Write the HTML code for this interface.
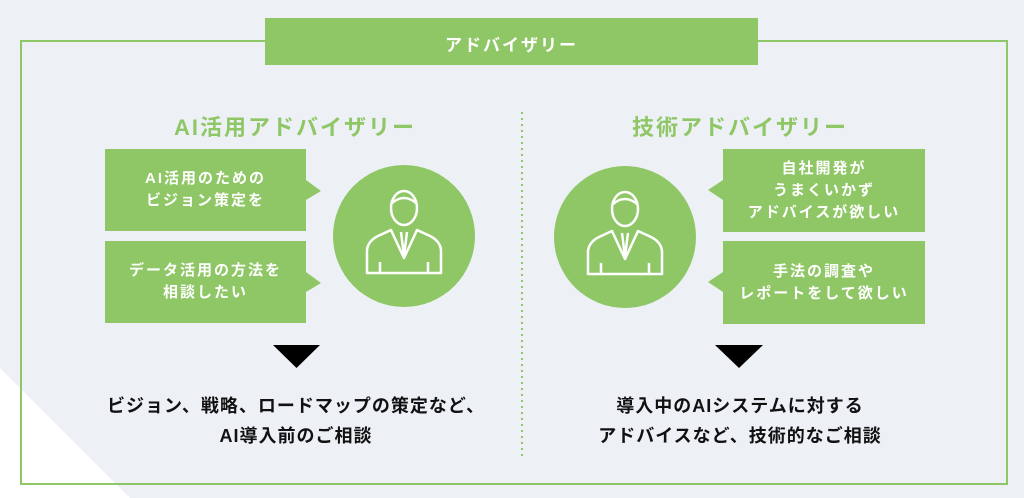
<!DOCTYPE html>
<html><head><meta charset="utf-8"><style>
body{margin:0;width:1024px;height:498px;background:#edf1f6;position:relative;overflow:hidden;font-family:"Liberation Sans","Noto Sans CJK JP",sans-serif;font-weight:bold}
.t{position:absolute;text-align:center;white-space:nowrap}
.box{position:absolute;background:#8fc766;color:#fff;font-size:15px;letter-spacing:2px;line-height:22px;display:flex;align-items:center;justify-content:center;text-align:center}
</style></head><body>
<svg width="1024" height="498" style="position:absolute;left:0;top:0">
<polygon points="0,368 130,498 0,498" fill="#fff"/>
<rect x="21" y="41" width="986" height="443" fill="none" stroke="#8fc766" stroke-width="2"/>
<rect x="265" y="18" width="493" height="47" fill="#8fc766"/>
<line x1="522" y1="112" x2="522" y2="456" stroke="#8fc766" stroke-width="2" stroke-dasharray="2,4"/>
<polygon points="306,180 321,191 306,200" fill="#8fc766"/>
<polygon points="306,272 321,283 306,292" fill="#8fc766"/>
<polygon points="723,180 708,190 723,200" fill="#8fc766"/>
<polygon points="723,272 708,282 723,292" fill="#8fc766"/>
<circle cx="404" cy="236" r="71" fill="#8fc766"/>
<circle cx="625" cy="237" r="71" fill="#8fc766"/>
<g id="p" fill="none" stroke="#fff" stroke-width="2.5" stroke-linejoin="round">
<ellipse cx="404" cy="208" rx="13" ry="17"/>
<path d="M392 203 Q404 193 416 203"/>
<path d="M367 273 L367 250 Q368 241 378 236 L391 230 L404 258 L417 230 L430 236 Q440 241 441 250 L441 273 Z"/>
<path d="M401 232 L404 256 L407 232 M380 262 V273 M428 262 V273"/>
</g>
<use href="#p" x="221" y="1"/>
<polygon points="273,345 320,345 296.5,368" fill="#000"/>
<polygon points="715,345 763,345 739,368" fill="#000"/>
</svg>
<div class="t" style="left:265px;width:493px;top:31px;font-size:17px;color:#fff;letter-spacing:2px">アドバイザリー</div>
<div class="t" style="left:130px;width:330px;top:110px;font-size:22px;color:#8fc766;letter-spacing:2px">AI活用アドバイザリー</div>
<div class="t" style="left:575px;width:330px;top:110px;font-size:22px;color:#8fc766;letter-spacing:2px">技術アドバイザリー</div>
<div class="box" style="left:105px;top:149px;width:201px;height:82px">AI活用のための<br>ビジョン策定を</div>
<div class="box" style="left:105px;top:241px;width:201px;height:82px">データ活用の方法を<br>相談したい</div>
<div class="box" style="left:723px;top:149px;width:202px;height:83px">自社開発が<br>うまくいかず<br>アドバイスが欲しい</div>
<div class="box" style="left:723px;top:241px;width:202px;height:83px">手法の調査や<br>レポートをして欲しい</div>
<div class="t" style="left:96px;width:400px;top:391px;font-size:18px;line-height:30px;color:#111;letter-spacing:1px">ビジョン、戦略、ロードマップの策定など、<br>AI導入前のご相談</div>
<div class="t" style="left:540px;width:400px;top:391px;font-size:18px;line-height:30px;color:#111;letter-spacing:1px">導入中のAIシステムに対する<br>アドバイスなど、技術的なご相談</div>
</body></html>
